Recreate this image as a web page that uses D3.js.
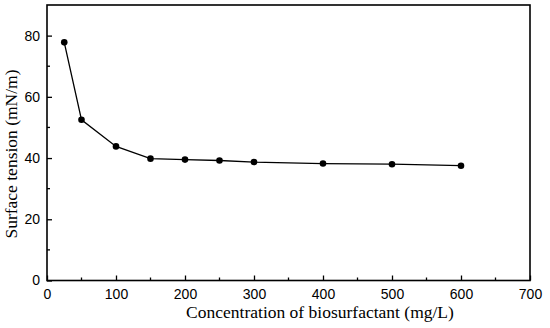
<!DOCTYPE html>
<html>
<head>
<meta charset="utf-8">
<script src="https://cdn.jsdelivr.net/npm/d3@7"></script>
<style>
  body { margin: 0; background: #fff; }
  svg { display: block; }
</style>
</head>
<body>
<div id="chart"></div>
<script>
// concentration (mg/L) vs surface tension (mN/m)
const concentration = [25, 50, 100, 150, 200, 250, 300, 400, 500, 600];
const tension = [77.8, 52.5, 43.8, 39.8, 39.5, 39.2, 38.7, 38.2, 38.0, 37.5];
const xTicks = [0, 100, 200, 300, 400, 500, 600, 700];
const yTicks = [0, 20, 40, 60, 80];

const width = 550, height = 328;
const margin = { top: 5, right: 20, bottom: 47.5, left: 47 };
const innerWidth = width - margin.left - margin.right;
const innerHeight = height - margin.top - margin.bottom;

const svg = d3.select('#chart').append('svg')
  .attr('width', width)
  .attr('height', height);

const g = svg.append('g')
  .attr('transform', `translate(${margin.left},${margin.top})`);

const x = d3.scaleLinear().domain([0, 700]).range([0, innerWidth]);
const y = d3.scaleLinear().domain([0, 90]).range([innerHeight, 0]);

// minor ticks
const xMinor = d3.range(50, 700, 100);
const yMinor = d3.range(10, 90, 20);

g.selectAll('.xminor')
  .data(xMinor)
  .enter().append('line')
  .attr('x1', d => x(d)).attr('x2', d => x(d))
  .attr('y1', innerHeight).attr('y2', innerHeight - 3)
  .attr('stroke', '#000').attr('stroke-width', 1.3);

g.selectAll('.yminor')
  .data(yMinor)
  .enter().append('line')
  .attr('x1', 0).attr('x2', 3)
  .attr('y1', d => y(d)).attr('y2', d => y(d))
  .attr('stroke', '#000').attr('stroke-width', 1.3);

// x axis
const xAxis = g.append('g')
  .attr('transform', `translate(0,${innerHeight})`)
  .call(d3.axisBottom(x).tickValues(xTicks).tickSize(-5).tickPadding(9).tickSizeOuter(0));

// y axis
const yAxis = g.append('g')
  .call(d3.axisLeft(y).tickValues(yTicks).tickSize(-5).tickPadding(7).tickSizeOuter(0));

[xAxis, yAxis].forEach(a => {
  a.select('.domain').remove();
  a.selectAll('line').attr('stroke', '#000').attr('stroke-width', 1.3);
  a.selectAll('text')
    .attr('fill', '#000')
    .attr('font-family', 'Liberation Sans, Arial, sans-serif')
    .attr('font-size', '14px');
});

// frame
g.append('rect')
  .attr('x', 0).attr('y', 0)
  .attr('width', innerWidth).attr('height', innerHeight)
  .attr('fill', 'none')
  .attr('stroke', '#000')
  .attr('stroke-width', 1.6);

// line + points
const pts = concentration.map((c, i) => ({ c, t: tension[i] }));

g.append('path')
  .datum(pts)
  .attr('fill', 'none')
  .attr('stroke', '#000')
  .attr('stroke-width', 1.3)
  .attr('d', d3.line().x(d => x(d.c)).y(d => y(d.t)));

g.selectAll('.pt')
  .data(pts)
  .enter().append('circle')
  .attr('cx', d => x(d.c))
  .attr('cy', d => y(d.t))
  .attr('r', 3.3)
  .attr('fill', '#000');

// axis titles
svg.append('text')
  .attr('x', 320)
  .attr('y', 318)
  .attr('text-anchor', 'middle')
  .attr('font-family', 'Liberation Serif, Times New Roman, serif')
  .attr('font-size', '17.5px')
  .text('Concentration of biosurfactant (mg/L)');

svg.append('text')
  .attr('transform', 'translate(17,154) rotate(-90)')
  .attr('text-anchor', 'middle')
  .attr('font-family', 'Liberation Serif, Times New Roman, serif')
  .attr('font-size', '17.5px')
  .text('Surface tension (mN/m)');
</script>
</body>
</html>
